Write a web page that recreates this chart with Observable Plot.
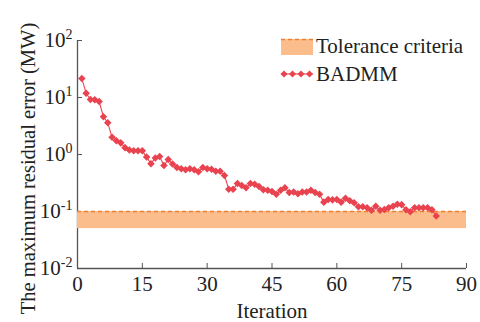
<!DOCTYPE html>
<html><head><meta charset="utf-8">
<script src="https://cdn.jsdelivr.net/npm/d3@7"></script>
<script src="https://cdn.jsdelivr.net/npm/@observablehq/plot@0.6"></script>
<style>body{margin:0;background:#fff} svg{display:block}</style>
</head><body><div id="chart"></div>
<script>
const iterations = [1,2,3,4,5,6,7,8,9,10,11,12,13,14,15,16,17,18,19,20,21,22,23,24,25,26,27,28,29,30,
  31,32,33,34,35,36,37,38,39,40,41,42,43,44,45,46,47,48,49,50,51,52,53,54,55,56,57,58,59,60,
  61,62,63,64,65,66,67,68,69,70,71,72,73,74,75,76,77,78,79,80,81,82,83];
const badmm = [21.5,11.9,9.2,9.1,8.5,4.6,3.6,2.0,1.74,1.6,1.32,1.2,1.16,1.16,1.16,0.9,0.69,0.87,0.92,0.64,
  0.82,0.68,0.59,0.56,0.54,0.56,0.54,0.50,0.59,0.56,0.55,0.51,0.51,0.43,0.245,0.245,0.31,0.285,0.26,0.31,
  0.30,0.275,0.24,0.235,0.225,0.20,0.235,0.26,0.215,0.22,0.205,0.22,0.22,0.235,0.215,0.20,0.146,0.162,0.16,0.162,
  0.146,0.171,0.155,0.142,0.121,0.121,0.116,0.105,0.124,0.105,0.108,0.116,0.124,0.134,0.132,0.107,0.099,0.116,0.116,0.116,
  0.116,0.107,0.083];
const xTicks = [0,15,30,45,60,75,90];
const yTicks = [0.01,0.1,1,10,100];
const xDomain = [0, 90];
const yDomain = [0.01, 100];
const tolerance = [0.05, 0.1];
const seriesNames = ["Tolerance criteria", "BADMM"];
const xLabel = "Iteration";
const yLabel = "The maximum residual error (MW)";

const red = "#e8434f";
const bandFill = "#fbbd8b";
const bandLine = "#f0802e";
const axisColor = "#555";

const data = badmm.map((v, i) => ({iter: iterations[i], err: v}));
const band = [{x1: xDomain[0], x2: xDomain[1], lo: tolerance[0], hi: tolerance[1]}];

const markerSymbol = {draw(ctx, size) { const s = Math.sqrt(size / 2); ctx.moveTo(0, -s); ctx.lineTo(s, 0); ctx.lineTo(0, s); ctx.lineTo(-s, 0); ctx.closePath(); }};

const W = 480, H = 322, mL = 77, mR = 14, mT = 40, mB = 54;
const fw = W - mL - mR, fh = H - mT - mB;

const svg = Plot.plot({
  width: W, height: H,
  marginLeft: mL, marginRight: mR, marginTop: mT, marginBottom: mB,
  style: {fontFamily: "Liberation Serif", fontSize: "21px", color: "#222", background: "#fff"},
  x: {domain: xDomain},
  y: {type: "log", domain: yDomain},
  marks: [
    Plot.ruleX(xTicks, {insetTop: fh - 5, stroke: axisColor}),
    Plot.ruleY(yTicks, {insetRight: fw - 5, stroke: axisColor}),
    Plot.ruleX([xDomain[0]], {stroke: axisColor, strokeWidth: 1.3}),
    Plot.ruleY([yDomain[0]], {stroke: axisColor, strokeWidth: 1.3}),
    Plot.rect(band, {x1: "x1", x2: "x2", y1: "lo", y2: "hi", fill: bandFill}),
    Plot.ruleY([tolerance[1]], {stroke: bandLine, strokeDasharray: "4,3", strokeWidth: 1.3}),
    Plot.axisX({ticks: xTicks, tickSize: 0, tickPadding: 8, label: null, tickFormat: d => String(d)}),
    Plot.axisY({ticks: yTicks, tickSize: 0, tickPadding: 5, label: null, tickFormat: d => "10^" + Math.round(Math.log10(d))}),
    Plot.text([xLabel], {frameAnchor: "bottom", dy: 49, lineAnchor: "bottom", fontSize: 21, fill: "#222", text: d => d}),
    Plot.text([yLabel], {frameAnchor: "left", rotate: -90, dx: -57, dy: 14, textAnchor: "middle", lineAnchor: "top", fontSize: 20.5, fill: "#222", text: d => d}),
    Plot.line(data, {x: "iter", y: "err", stroke: red, strokeWidth: 1.1}),
    Plot.dot(data, {x: "iter", y: "err", symbol: markerSymbol, r: 3, fill: red})
  ]
});

// superscript exponents on log tick labels
d3.select(svg).selectAll('g[aria-label="y-axis tick label"] text').each(function() {
  const m = this.textContent.match(/^10\^(-?\d+)$/);
  if (m) {
    const s = d3.select(this);
    s.text("10");
    s.append("tspan").attr("font-size", 14).attr("dy", "-0.6em").text(m[1]);
  }
});

// legend
const lg = d3.select(svg).append("g").attr("font-family", "Liberation Serif").attr("font-size", 21).attr("fill", "#222").attr("text-anchor", "start");
const lx = 281, lw = 32;
lg.append("rect").attr("x", lx).attr("y", 39).attr("width", lw).attr("height", 16).attr("fill", bandFill);
lg.append("line").attr("x1", lx).attr("x2", lx + lw).attr("y1", 39.5).attr("y2", 39.5).attr("stroke", bandLine).attr("stroke-dasharray", "4,3").attr("stroke-width", 1.3);
lg.append("text").attr("x", lx + lw + 3).attr("y", 53).text(seriesNames[0]);
lg.append("line").attr("x1", lx).attr("x2", lx + lw).attr("y1", 74).attr("y2", 74).attr("stroke", red).attr("stroke-width", 1.1);
[0, 1, 2, 3].forEach(k => {
  const cx = lx + 3 + k * 8.5;
  lg.append("path").attr("d", `M${cx},${74 - 3.5}L${cx + 3.5},74L${cx},${74 + 3.5}L${cx - 3.5},74Z`).attr("fill", red);
});
lg.append("text").attr("x", lx + lw + 3).attr("y", 81).text(seriesNames[1]);

document.getElementById("chart").appendChild(svg);
</script>
</body></html>
